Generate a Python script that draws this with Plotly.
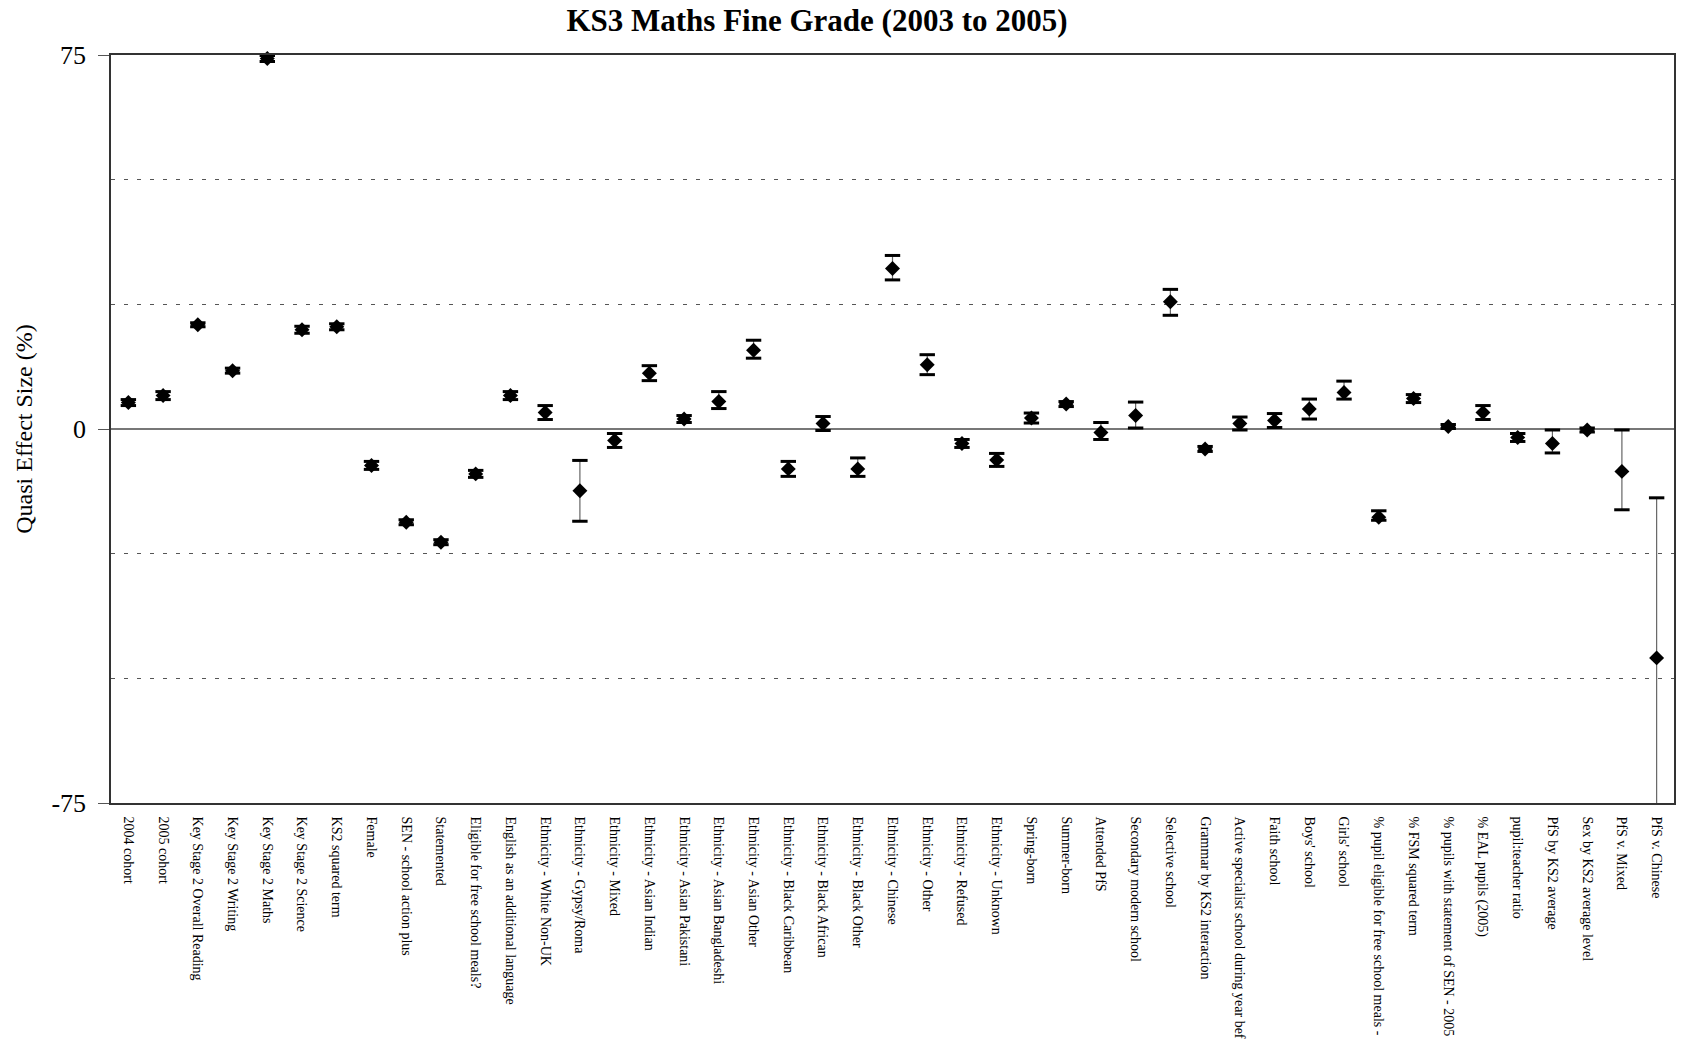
import plotly.graph_objects as go

categories = [
    "2004 cohort", "2005 cohort", "Key Stage 2 Overall Reading", "Key Stage 2 Writing",
    "Key Stage 2 Maths", "Key Stage 2 Science", "KS2 squared term", "Female",
    "SEN - school action plus", "Statemented", "Eligible for free school meals?",
    "English as an additional language", "Ethnicity - White Non-UK", "Ethnicity - Gypsy/Roma",
    "Ethnicity - Mixed", "Ethnicity - Asian Indian", "Ethnicity - Asian Pakistani",
    "Ethnicity - Asian Bangladeshi", "Ethnicity - Asian Other", "Ethnicity - Black Caribbean",
    "Ethnicity - Black African", "Ethnicity - Black Other", "Ethnicity - Chinese",
    "Ethnicity - Other", "Ethnicity - Refused", "Ethnicity - Unknown", "Spring-born",
    "Summer-born", "Attended PfS", "Secondary modern school", "Selective school",
    "Grammar by KS2 interaction", "Active specialist school during year bef", "Faith school",
    "Boys' school", "Girls' school", "% pupil eligible for free school meals -",
    "% FSM squared term", "% pupils with statement of SEN - 2005", "% EAL pupils (2005)",
    "pupil:teacher ratio", "PfS by KS2 average", "Sex by KS2 average level",
    "PfS v. Mixed", "PfS v. Chinese",
]

effect = [5.3, 6.7, 20.9, 11.7, 74.3, 19.9, 20.5, -7.3, -18.7, -22.7, -9.0, 6.7, 3.3, -12.4,
          -2.3, 11.2, 2.0, 5.5, 15.8, -8.0, 1.1, -8.0, 32.2, 12.9, -2.9, -6.2, 2.2, 5.0, -0.7,
          2.7, 25.5, -4.0, 1.1, 1.7, 4.0, 7.3, -17.7, 6.1, 0.5, 3.3, -1.7, -2.9, -0.2, -8.5, -45.9]

err_plus = [0.6, 0.8, 0.4, 0.5, 0.6, 0.7, 0.6, 0.8, 0.5, 0.5, 0.7, 0.8, 1.4, 6.1, 1.4, 1.5,
            0.7, 2.0, 2.0, 1.5, 1.4, 2.2, 2.6, 2.0, 0.8, 1.3, 1.0, 0.5, 2.0, 2.7, 2.5, 0.5,
            1.3, 1.4, 2.0, 2.3, 1.3, 0.8, 0.4, 1.4, 0.8, 2.7, 0.4, 8.3, 32.1]

err_minus = [0.6, 0.8, 0.4, 0.5, 0.6, 0.7, 0.6, 0.8, 0.5, 0.5, 0.7, 0.8, 1.4, 6.1, 1.4, 1.5,
             0.7, 1.4, 1.6, 1.5, 1.4, 1.5, 2.3, 2.0, 0.8, 1.3, 1.0, 0.5, 1.4, 2.5, 2.7, 0.5,
             1.3, 1.4, 2.0, 1.3, 0.6, 0.8, 0.4, 1.4, 0.8, 1.9, 0.4, 7.7, 32.0]

y_ticks = [-75, 0, 75]
y_dashed = [-50, -25, 25, 50]

upper = [v + e for v, e in zip(effect, err_plus)]
lower = [v - e for v, e in zip(effect, err_minus)]

fig = go.Figure()

# error bar stems
fig.add_trace(go.Scatter(
    x=categories, y=effect, mode="markers",
    marker=dict(size=1, color="rgba(0,0,0,0)"),
    error_y=dict(type="data", symmetric=False, array=err_plus, arrayminus=err_minus,
                 width=0, thickness=1.2, color="#666666"),
    hoverinfo="skip", cliponaxis=True,
))
# caps
fig.add_trace(go.Scatter(
    x=categories + categories, y=upper + lower, mode="markers",
    marker=dict(symbol="line-ew", size=11, line=dict(width=3, color="black")),
    hoverinfo="skip", cliponaxis=True,
))
# diamonds
fig.add_trace(go.Scatter(
    x=categories, y=effect, mode="markers",
    marker=dict(symbol="diamond", size=11.5, color="black", line=dict(width=0)),
    cliponaxis=False,
))

fig.update_layout(
    width=1682, height=1044,
    margin=dict(l=111, r=8, t=55, b=241, autoexpand=False),
    paper_bgcolor="white", plot_bgcolor="white",
    font=dict(family="Liberation Serif", color="black"),
    showlegend=False,
    title=dict(text="<b>KS3 Maths Fine Grade (2003 to 2005)</b>",
               x=817 / 1682, xanchor="center", y=1 - 20 / 1044, yanchor="middle",
               font=dict(size=31, family="Liberation Serif", color="black")),
    xaxis=dict(
        type="category", range=[-0.5, len(categories) - 0.5],
        tickangle=90, tickfont=dict(size=14), ticks="",
        ticklabelstandoff=9, automargin=False,
        showline=True, mirror=True, linecolor="#333333", linewidth=1.5,
        showgrid=False, zeroline=False,
    ),
    yaxis=dict(
        range=[-75, 75], tickvals=y_ticks, ticktext=[str(v) for v in y_ticks],
        ticks="outside", ticklen=11, tickcolor="#555555", tickwidth=1.2,
        tickfont=dict(size=26), ticklabelstandoff=7, automargin=False,
        showgrid=False,
        zeroline=True, zerolinecolor="#777777", zerolinewidth=1.5,
        showline=True, mirror=True, linecolor="#333333", linewidth=1.5,
        minor=dict(tickvals=y_dashed, showgrid=True, gridcolor="#555555",
                   griddash="4px,9px", gridwidth=1.2, ticks=""),
        title=dict(text="Quasi Effect Size (%)", font=dict(size=24), standoff=12),
    ),
)

fig.write_html(
    "out.html",
    config={"displayModeBar": False},
    post_script="document.body.style.margin='0';document.body.style.overflow='hidden';",
)
